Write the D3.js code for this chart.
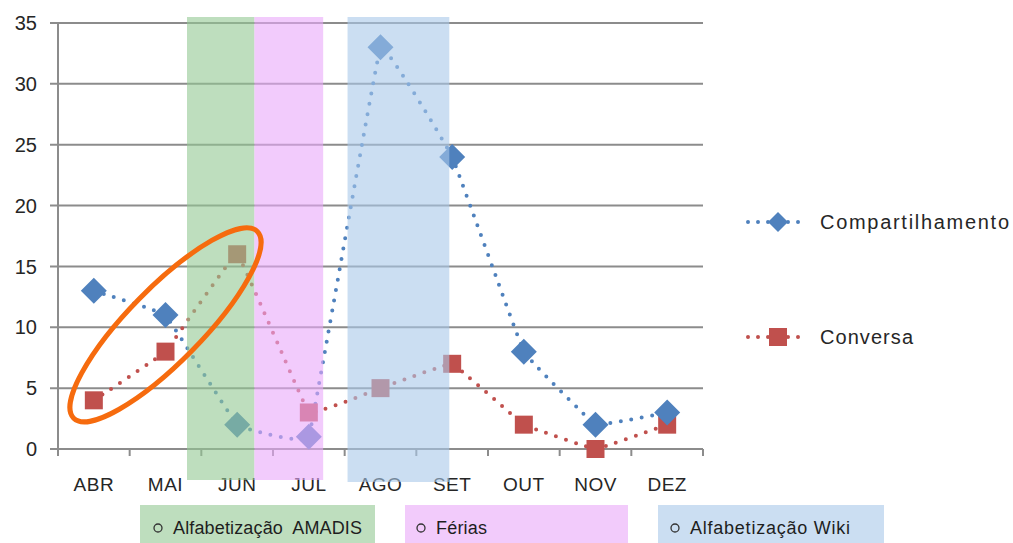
<!DOCTYPE html>
<html>
<head>
<meta charset="utf-8">
<script src="https://cdn.jsdelivr.net/npm/d3@7"></script>
<style>
  body { margin: 0; background: #fff; }
  text { font-family: "Liberation Sans", Arial, sans-serif; }
</style>
</head>
<body>
<div id="chart"></div>
<script>
var months = ['ABR', 'MAI', 'JUN', 'JUL', 'AGO', 'SET', 'OUT', 'NOV', 'DEZ'];
var compartilhamento = [13, 11, 2, 1, 33, 24, 8, 2, 3];
var conversa = [4, 8, 16, 3, 5, 7, 2, 0, 2];
var yTicks = [0, 5, 10, 15, 20, 25, 30, 35];
var seriesNames = ['Compartilhamento', 'Conversa'];
var periods = ['Alfabetização  AMADIS', 'Férias', 'Alfabetização Wiki'];

var width = 1013, height = 543;
var plot = {left: 58, right: 703, top: 23, bottom: 449};

var svg = d3.select('#chart').append('svg')
    .attr('width', width)
    .attr('height', height);

var x = d3.scaleBand()
    .domain(months)
    .range([plot.left, plot.right]);

var y = d3.scaleLinear()
    .domain([0, 35])
    .range([plot.bottom, plot.top]);

var blue = '#4f81bd', red = '#c0504d';
var textColor = '#262626';

// gridlines
svg.append('g').selectAll('line')
    .data(yTicks)
  .enter().append('line')
    .attr('x1', plot.left - 8)
    .attr('x2', plot.right)
    .attr('y1', function(d) { return y(d); })
    .attr('y2', function(d) { return y(d); })
    .style('stroke', '#8c8c8c')
    .style('stroke-width', 2);

// left axis line
svg.append('line')
    .attr('x1', plot.left).attr('x2', plot.left)
    .attr('y1', y(35)).attr('y2', y(0))
    .style('stroke', '#8c8c8c')
    .style('stroke-width', 2);

// y tick labels
svg.append('g').selectAll('text')
    .data(yTicks)
  .enter().append('text')
    .attr('x', 37)
    .attr('y', function(d) { return y(d); })
    .attr('dy', '.36em')
    .attr('text-anchor', 'end')
    .style('font-size', '20px')
    .style('fill', textColor)
    .text(function(d) { return d; });

// x ticks at category borders
var borders = months.map(function(m) { return x(m); }).concat([plot.right]);
svg.append('g').selectAll('line')
    .data(borders)
  .enter().append('line')
    .attr('x1', function(d) { return d; })
    .attr('x2', function(d) { return d; })
    .attr('y1', plot.bottom)
    .attr('y2', plot.bottom + 7)
    .style('stroke', '#8c8c8c')
    .style('stroke-width', 2);

// x labels
svg.append('g').selectAll('text')
    .data(months)
  .enter().append('text')
    .attr('x', function(d) { return x(d) + x.bandwidth() / 2; })
    .attr('y', 491)
    .attr('text-anchor', 'middle')
    .style('font-size', '19px')
    .style('letter-spacing', '0.5px')
    .style('fill', textColor)
    .text(function(d) { return d; });

var line = d3.line()
    .x(function(d, i) { return x(months[i]) + x.bandwidth() / 2; })
    .y(function(d) { return y(d); })
    .curve(d3.curveCardinal.tension(0.85));

function dotted(sel, color) {
  sel.style('fill', 'none')
     .style('stroke', color)
     .style('stroke-width', 4)
     .style('stroke-linecap', 'round')
     .style('stroke-dasharray', '0 10.5');
}

svg.append('path').datum(compartilhamento).attr('d', line).call(dotted, blue);
svg.append('path').datum(conversa).attr('d', line).call(dotted, red);

var diamond = 'M0,-13L13,0L0,13L-13,0Z';

svg.append('g').selectAll('rect')
    .data(conversa)
  .enter().append('rect')
    .attr('x', function(d, i) { return x(months[i]) + x.bandwidth() / 2 - 9; })
    .attr('y', function(d) { return y(d) - 9; })
    .attr('width', 18)
    .attr('height', 18)
    .style('fill', red);

svg.append('g').selectAll('path')
    .data(compartilhamento)
  .enter().append('path')
    .attr('d', diamond)
    .attr('transform', function(d, i) {
      return 'translate(' + (x(months[i]) + x.bandwidth() / 2) + ',' + y(d) + ')';
    })
    .style('fill', blue);

// period bands (overlay)
var bw = x.bandwidth();
var bands = [
  {x0: x('MAI') + bw * 0.8, x1: x('JUN') + bw * 0.74, bottom: 480, fill: 'rgb(147,200,147)', box: 'rgb(190,222,190)'},
  {x0: x('JUN') + bw * 0.74, x1: x('JUL') + bw * 0.7, bottom: 480, fill: 'rgb(233,168,250)', box: 'rgb(242,203,251)'},
  {x0: x('AGO') + bw * 0.04, x1: x('SET') + bw * 0.46, bottom: 482, fill: 'rgb(168,200,233)', box: 'rgb(203,222,242)'}
];

svg.append('g').selectAll('rect')
    .data(bands)
  .enter().append('rect')
    .attr('x', function(d) { return d.x0; })
    .attr('y', 17)
    .attr('width', function(d) { return d.x1 - d.x0; })
    .attr('height', function(d) { return d.bottom - 17; })
    .style('fill', function(d) { return d.fill; })
    .style('opacity', 0.6);

// orange ellipse highlighting ABR..JUN
var cx = (x('ABR') + x('JUN') + bw) / 2;
var cy = y(10.2);
svg.append('ellipse')
    .attr('cx', cx)
    .attr('cy', cy)
    .attr('rx', 131)
    .attr('ry', 37)
    .attr('transform', 'rotate(-45.5,' + cx + ',' + cy + ')')
    .style('fill', 'none')
    .style('stroke', '#f66b0e')
    .style('stroke-width', 5);

// right legend
var legend = svg.append('g').selectAll('g')
    .data(seriesNames)
  .enter().append('g')
    .attr('transform', function(d, i) { return 'translate(748,' + (222 + i * 115) + ')'; });

legend.append('line')
    .attr('x1', 0).attr('x2', 60)
    .attr('y1', 0).attr('y2', 0)
    .each(function(d, i) { d3.select(this).call(dotted, i ? red : blue); })
    .style('stroke-dasharray', '0 10');

legend.append('path')
    .attr('d', function(d, i) { return i ? 'M-9,-9H9V9H-9Z' : 'M0,-10L10,0L0,10L-10,0Z'; })
    .attr('transform', 'translate(30,0)')
    .style('fill', function(d, i) { return i ? red : blue; });

legend.append('text')
    .attr('x', 72)
    .attr('dy', '.36em')
    .style('font-size', '20px')
    .style('fill', textColor)
    .attr('textLength', function(d, i) { return i ? 93 : 189; })
    .text(function(d) { return d; });

// bottom period legend
var boxes = [
  {x: 140, w: 235, tx: 173, tw: 189},
  {x: 405, w: 223, tx: 436, tw: 51},
  {x: 658, w: 226, tx: 690, tw: 160}
];

var pl = svg.append('g').selectAll('g')
    .data(periods)
  .enter().append('g');

pl.append('rect')
    .attr('x', function(d, i) { return boxes[i].x; })
    .attr('y', 505)
    .attr('width', function(d, i) { return boxes[i].w; })
    .attr('height', 38)
    .style('fill', function(d, i) { return bands[i].box; });

pl.append('circle')
    .attr('cx', function(d, i) { return boxes[i].tx - 15; })
    .attr('cy', 528)
    .attr('r', 4)
    .style('fill', 'none')
    .style('stroke', '#333')
    .style('stroke-width', 1.3);

pl.append('text')
    .attr('x', function(d, i) { return boxes[i].tx; })
    .attr('y', 534)
    .style('font-size', '18px')
    .style('fill', '#1e1e1e')
    .attr('xml:space', 'preserve')
    .attr('textLength', function(d, i) { return boxes[i].tw; })
    .text(function(d) { return d; });
</script>
</body>
</html>
